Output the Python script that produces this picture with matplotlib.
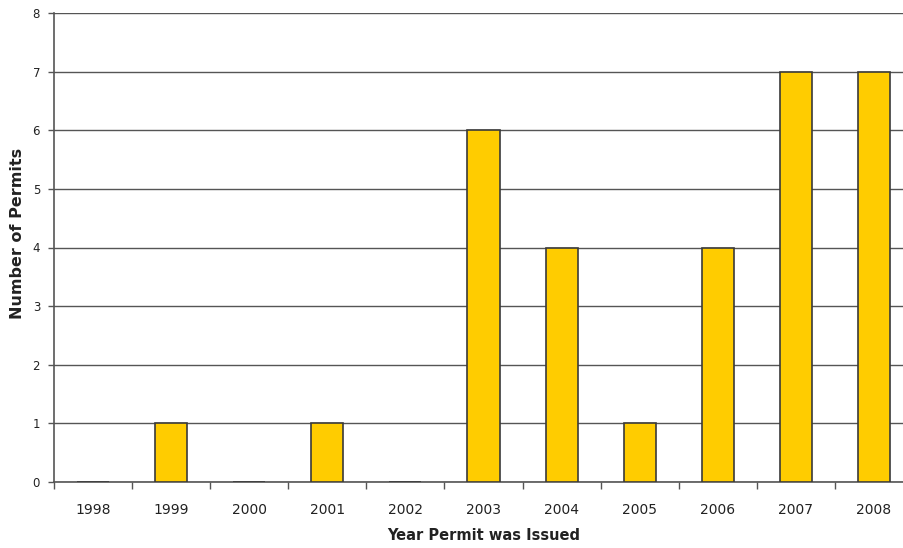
import matplotlib
matplotlib.use("Agg")
import matplotlib.pyplot as plt
import numpy as np

years = ["1998", "1999", "2000", "2001", "2002", "2003", "2004", "2005", "2006", "2007", "2008"]
permits = [0, 1, 0, 1, 0, 6, 4, 1, 4, 7, 7]
yticks = [0, 1, 2, 3, 4, 5, 6, 7, 8]

plt.rcParams['font.family'] = ['DejaVu Sans']
fig = plt.figure(figsize=(9.04, 5.48), dpi=100)
ax = fig.add_axes([54/904, 1-482/548, 859/904, 469/548])

x = np.arange(len(years))
ax.bar(x, permits, width=0.41, color="#FFCC00", edgecolor="#3a3a3a", linewidth=1.2, zorder=3)

ax.set_xlim(-0.5, len(years)-0.5)
ax.set_ylim(0, 8)
ax.set_yticks(yticks)
ax.set_yticklabels([str(v) for v in yticks], fontsize=8.5, color="#222222")
ax.yaxis.grid(True, color="#555555", linewidth=1.0, zorder=0)
ax.set_axisbelow(True)

ax.set_xticks(x)
ax.set_xticklabels(years, fontsize=10, color="#222222")
ax.tick_params(axis='x', which='major', length=0, pad=15)
ax.set_xticks(np.arange(-0.5, len(years), 1.0), minor=True)
ax.tick_params(axis='x', which='minor', length=5, width=1, color="#555555", direction='out')
ax.tick_params(axis='y', length=4, width=1, color="#555555", pad=6)

for s in ['top', 'right']:
    ax.spines[s].set_visible(False)
for s in ['left', 'bottom']:
    ax.spines[s].set_color("#555555")
    ax.spines[s].set_linewidth(1.2)

ax.set_xlabel("Year Permit was Issued", fontsize=10.5, fontweight='bold', color="#222222")
ax.set_ylabel("Number of Permits", fontsize=11.5, fontweight='bold', color="#222222")
ax.xaxis.set_label_coords(0.5, (482-528)/469)
ax.yaxis.set_label_coords((25-54)/859, 0.53)

fig.savefig("out.png", dpi=100)
